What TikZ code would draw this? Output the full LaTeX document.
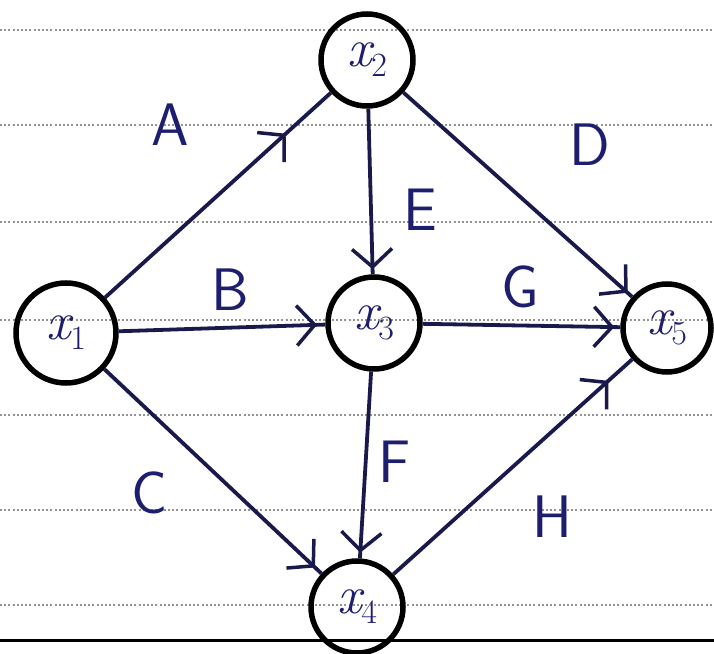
\documentclass[tikz,border=0pt]{standalone}
\usepackage{fontspec}
\usetikzlibrary{arrows.meta,decorations.markings}
\definecolor{ink}{RGB}{25,25,75}
\definecolor{penblue}{RGB}{30,30,110}
\newcommand{\vname}[1]{{\itshape x}\raisebox{-10pt}{\fontsize{34}{36}\selectfont #1}}

\begin{document}
\begin{tikzpicture}[x=1pt, y=1pt,
  vertex/.style={draw=black, line width=5.5pt, circle, minimum size=92pt, inner sep=0pt, font=\fontsize{54}{58}\selectfont, text=penblue},
  lab/.style={font=\fontsize{60}{64}\selectfont\sffamily, text=penblue},
  ruled/.style={gray!85, line width=2.2pt, dash pattern=on 2pt off 2.2pt},
  arr/.style={ink, line width=3.8pt, postaction={decorate},
    decoration={markings, mark=at position #1 with {\arrow{Straight Barb[length=18pt, width=40pt, line width=3.5pt]}}}}]
\useasboundingbox (0,0) rectangle (714,653);
% lined paper
\foreach \y in {623,528,431,333,238,143,48}
  \draw[ruled] (0,\y) -- (714,\y);
\draw[black, line width=3pt] (0,13) -- (714,13);
% vertices
\node[vertex, minimum size=100pt] (x1) at (66,320) {\vname{1}};
\node[vertex] (x2) at (367,593) {\vname{2}};
\node[vertex] (x3) at (374,330) {\vname{3}};
\node[vertex] (x4) at (357,46) {\vname{4}};
\node[vertex, minimum size=88pt] (x5) at (667,325) {\vname{5}};
% edges
\draw[arr=0.8] (x1) -- (x2);
\draw[arr=0.96] (x1) -- (x3);
\draw[arr=0.97] (x1) -- (x4);
\draw[arr=0.98] (x2) -- (x5);
\draw[arr=0.97] (x2) -- (x3);
\draw[arr=0.97] (x3) -- (x4);
\draw[arr=0.97] (x3) -- (x5);
\draw[arr=0.9] (x4) -- (x5);
% edge names
\node[lab] (lA) at (170,528) {A};
\node[lab] (lB) at (230,363) {B};
\node[lab] (lC) at (150,160) {C};
\node[lab] (lD) at (590,508) {D};
\node[lab] (lE) at (420,443) {E};
\node[lab] (lF) at (395,191) {F};
\node[lab] (lG) at (520,366) {G};
\node[lab] (lH) at (552,136) {H};
\end{tikzpicture}
\end{document}
